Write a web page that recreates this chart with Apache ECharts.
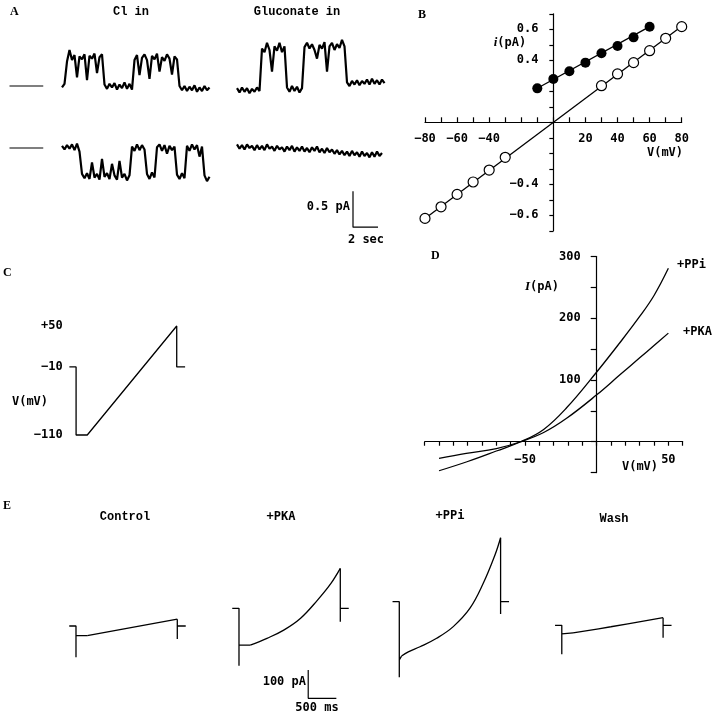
<!DOCTYPE html>
<html>
<head>
<meta charset="utf-8">
<script src="https://cdn.jsdelivr.net/npm/echarts@6/dist/echarts.min.js"></script>
<style>
html, body { margin: 0; padding: 0; background: #fff; }
#chart { width: 720px; height: 714px; }
</style>
</head>
<body>
<div id="chart"></div>
<script>
// ---- A: single channel records (pA), one sample every 0.2 s ----
const sampleStep = 0.2;
const clTop = [-0.02, 0.03, 0.34, 0.5, 0.36, 0.43, 0.12, 0.41, 0.37, 0.44,
  0.08, 0.42, 0.38, 0.45, 0.18, 0.40, 0.44, 0.02, -0.04, 0.03,
  -0.02, 0.04, -0.05, 0.02, -0.03, 0.05, -0.04, 0.03, -0.05, 0.36,
  0.43, 0.15, 0.39, 0.44, 0.36, 0.10, 0.42, 0.37, 0.45, 0.2,
  0.40, 0.35, 0.44, 0.38, 0.16, 0.41, 0.37, 0.0, -0.06, 0.0,
  -0.07, -0.01, -0.06, 0.01, -0.08, -0.02, -0.07, 0.0, -0.06, -0.02];
const clBottom = [0.03, -0.02, 0.04, -0.01, 0.05, -0.03, 0.06, -0.05, -0.36, -0.42,
  -0.35, -0.43, -0.2, -0.41, -0.36, -0.44, -0.15, -0.40, -0.35, -0.43,
  -0.22, -0.38, -0.44, -0.18, -0.41, -0.36, -0.45, -0.38, 0.02, -0.04,
  0.05, -0.03, 0.04, -0.02, -0.36, -0.43, -0.34, -0.41, 0.01, 0.05,
  -0.04, 0.04, -0.08, 0.03, -0.03, 0.02, -0.37, -0.43, -0.35, -0.42,
  0.03, -0.04, 0.05, -0.02, 0.04, -0.12, 0.02, -0.38, -0.46, -0.40];
const glTop = [-0.03, -0.09, -0.02, -0.08, -0.03, -0.1, -0.04, -0.08, -0.02, -0.07,
  0.52, 0.47, 0.6, 0.5, 0.2, 0.55, 0.49, 0.6, 0.47, 0.55,
  -0.02, -0.08, 0.0, -0.07, -0.01, -0.09, -0.03, 0.54, 0.6, 0.52,
  0.58, 0.5, 0.38, 0.57, 0.52, 0.61, 0.2, 0.55, 0.6, 0.5,
  0.58, 0.53, 0.64, 0.55, 0.05, 0.0, 0.07, 0.02, 0.08, 0.01,
  0.07, 0.03, 0.09, 0.02, 0.1, 0.03, 0.08, 0.02, 0.09, 0.04];
const glBottom = [0.05, -0.01, 0.04, -0.02, 0.05, 0.0, 0.03, -0.03, 0.04, -0.02,
  0.03, -0.03, 0.05, -0.01, 0.02, -0.04, 0.03, -0.02, 0.01, -0.05,
  0.02, -0.03, 0.03, -0.05, 0.01, -0.04, 0.02, -0.05, 0.0, -0.06,
  0.01, -0.04, 0.02, -0.06, -0.01, -0.07, 0.0, -0.06, -0.02, -0.08,
  -0.03, -0.09, -0.04, -0.1, -0.05, -0.11, -0.04, -0.1, -0.06, -0.12,
  -0.05, -0.11, -0.07, -0.13, -0.06, -0.12, -0.05, -0.11, -0.07];
const zeroMarkT = [-4.2, -1.5];
const scaleBarAT = [9.28, 9.28, 11.28];
const scaleBarAI = [-0.6, -1.1, -1.1];

// ---- B: i-V of single channel ----
const openV = [-80, -70, -60, -50, -40, -30, 30, 40, 50, 60, 70, 80];
const openI = [-0.62, -0.545, -0.465, -0.385, -0.308, -0.226, 0.236, 0.312, 0.385, 0.462, 0.542, 0.617];
const filledV = [-10, 0, 10, 20, 30, 40, 50, 60];
const filledI = [0.219, 0.279, 0.329, 0.385, 0.445, 0.492, 0.548, 0.617];
const openFitV = [-80, 80];
const openFitI = [-0.62, 0.62];
const filledFitV = [-10, 60];
const filledFitI = [0.22, 0.617];
const bXLabels = [-80, -60, -40, 20, 40, 60, 80];
const bYLabels = [0.6, 0.4, -0.4, -0.6];

// ---- C: voltage protocol (ms, mV) ----
const protoT = [-120, 0, 0, 200, 1800, 1800, 1950];
const protoV = [-10, -10, -110, -110, 50, -10, -10];
const cYLabels = [50, -10, -110];

// ---- D: whole cell I-V ----
const ppiV = [-110, -90, -70, -53, -37, -21, 0, 16, 30, 40, 50];
const ppiI = [-47, -32, -15, 0, 20, 55, 113, 160, 203, 237, 281];
const pkaV = [-110, -91, -70, -53, -37, -21, 0, 16, 30, 40, 50];
const pkaI = [-27, -19, -11, 0, 15, 38, 76, 108, 136, 156, 176];
const dXLabels = [-50, 50];
const dYLabels = [100, 200, 300];

// ---- E: ramp currents (ms, pA relative to holding) ----
const holdT = [-120, 0];
const rampEndT = 1800;
const tailEndT = 1950;
const ctlSpikes = [-110, -46], ctlOn = -34;
const ctlRampT = [200, 1800];
const ctlRampI = [-34, 24];
const pkaSpikes = [-203, -47], pkaOn = -130;
const pkaRampT = [200, 497, 795, 1095, 1395, 1634, 1800];
const pkaRampI = [-130, -106, -77, -35, 29, 88, 141];
const ppiSpikes = [-267, -43], ppiOn = -206;
const ppiRampT = [40, 160, 368, 664, 959, 1256, 1492, 1700, 1800];
const ppiRampI = [-192, -177, -159, -129, -88, -23, 65, 165, 226];
const washSpikes = [-102, -44], washOn = -30;
const washRampT = [200, 872, 1800];
const washRampI = [-27, -5, 27];
const scaleBarET = [1230, 1230, 1730];
const scaleBarEI = [-218, -318, -318];

const numFont = 'DejaVu Sans Mono';
const wordFont = 'bold 12px "Liberation Mono"';
const minus = v => String(v).replace('-', '\u2212');
const zip = (xs, ys) => xs.map((x, k) => [x, ys[k]]);
const sampled = arr => arr.map((v, k) => [+(k * sampleStep).toFixed(2), v]);

const grids = [
    { left: 7, top: 35.6, width: 205, height: 64.8 },     // A Cl top
    { left: 7, top: 133.6, width: 205, height: 57.6 },    // A Cl bottom
    { left: 237, top: 35.6, width: 150, height: 64.8 },   // A gluconate top
    { left: 237, top: 133.6, width: 150, height: 100.8 }, // A gluconate bottom
    { left: 425, top: 13.8, width: 256.7, height: 217 },  // B
    { left: 67.7, top: 319.2, width: 120.2, height: 122.6 }, // C
    { left: 424.7, top: 256.6, width: 258, height: 216 }, // D
    { left: 67.55, top: 541.1, width: 121, height: 184 }, // E control
    { left: 230.55, top: 523.4, width: 121, height: 184 }, // E PKA
    { left: 390.85, top: 516.8, width: 121, height: 184 }, // E PPi
    { left: 553.35, top: 540.4, width: 121, height: 184 }  // E wash
].map(g => Object.assign({ outerBoundsMode: 'none', containLabel: false }, g));

// offset that moves an edge axis onto the zero line of the other axis
const zeroOffset = (size, min, max) => -size * (0 - min) / (max - min);

const hidden = (gi, min, max) => ({ type: 'value', gridIndex: gi, min: min, max: max, show: false });
const black = { color: '#000', width: 1.2 };
const labelStyle = { color: '#000', fontFamily: numFont, fontWeight: 'bold', fontSize: 12 };

const xAxes = [
    hidden(0, -4.4, 12), hidden(1, -4.4, 12), hidden(2, 0, 12), hidden(3, 0, 12),
    {
        type: 'value', gridIndex: 4, min: -80, max: 80, interval: 10,
        position: 'bottom', offset: zeroOffset(217, -0.7, 0.7),
        axisLine: { onZero: false, lineStyle: black },
        axisTick: { inside: true, length: 5, lineStyle: black },
        splitLine: { show: false },
        axisLabel: Object.assign({ margin: 11, showMinLabel: true, showMaxLabel: true,
            formatter: v => bXLabels.includes(v) ? minus(v) : '' }, labelStyle)
    },
    hidden(5, -150, 2000),
    {
        type: 'value', gridIndex: 6, min: -120, max: 60, interval: 10,
        position: 'bottom', offset: zeroOffset(216, -50, 300),
        axisLine: { onZero: false, lineStyle: black },
        axisTick: { length: 4, lineStyle: black },
        splitLine: { show: false },
        axisLabel: Object.assign({ margin: 12,
            formatter: v => dXLabels.includes(v) ? minus(v) : '' }, labelStyle)
    },
    hidden(7, -150, 2000), hidden(8, -150, 2000), hidden(9, -150, 2000), hidden(10, -150, 2000)
];

const yAxes = [
    hidden(0, -0.2, 0.7), hidden(1, -0.6, 0.2), hidden(2, -0.2, 0.7), hidden(3, -1.2, 0.2),
    {
        type: 'value', gridIndex: 4, min: -0.7, max: 0.7, interval: 0.1,
        position: 'left', offset: zeroOffset(256.7, -80, 80),
        axisLine: { onZero: false, lineStyle: black },
        axisTick: { length: 4, lineStyle: black },
        splitLine: { show: false },
        axisLabel: Object.assign({ margin: 15,
            formatter: v => bYLabels.some(l => Math.abs(l - v) < 1e-6) ? minus(v.toFixed(1)) : '' }, labelStyle)
    },
    {
        type: 'value', gridIndex: 5, min: -120, max: 60, interval: 10,
        axisLine: { show: false }, axisTick: { show: false }, splitLine: { show: false },
        axisLabel: Object.assign({ margin: 5,
            formatter: v => cYLabels.includes(v) ? (v > 0 ? '+' + v : minus(v)) : '' }, labelStyle)
    },
    {
        type: 'value', gridIndex: 6, min: -50, max: 300, interval: 50,
        position: 'left', offset: zeroOffset(258, -120, 60),
        axisLine: { onZero: false, lineStyle: black },
        axisTick: { length: 6, lineStyle: black },
        splitLine: { show: false },
        axisLabel: Object.assign({ margin: 16,
            formatter: v => dYLabels.includes(v) ? String(v) : '' }, labelStyle)
    },
    hidden(7, -350, 300), hidden(8, -350, 300), hidden(9, -350, 300), hidden(10, -350, 300)
];

const series = [];
function line(gi, data, width, extra) {
    series.push(Object.assign({
        type: 'line', xAxisIndex: gi, yAxisIndex: gi, data: data, symbol: 'none',
        silent: true, clip: false, lineStyle: { color: '#000', width: width || 1.3 }
    }, extra || {}));
}

// A
line(0, zeroMarkT.map(t => [t, 0]), 1.2);
line(1, zeroMarkT.map(t => [t, 0]), 1.2);
line(0, sampled(clTop), 2.2);
line(1, sampled(clBottom), 2.2);
line(2, sampled(glTop), 2.2);
line(3, sampled(glBottom), 2.2);
line(3, zip(scaleBarAT, scaleBarAI), 1.2);

// B
line(4, zip(openFitV, openFitI), 1.3);
line(4, zip(filledFitV, filledFitI), 1.3);
series.push({ type: 'scatter', xAxisIndex: 4, yAxisIndex: 4, z: 5, symbol: 'circle', symbolSize: 10,
    data: zip(openV, openI), itemStyle: { color: '#fff', borderColor: '#000', borderWidth: 1.2, opacity: 1 } });
series.push({ type: 'scatter', xAxisIndex: 4, yAxisIndex: 4, z: 5, symbol: 'circle', symbolSize: 10,
    data: zip(filledV, filledI), itemStyle: { color: '#000', opacity: 1 } });

// C
line(5, zip(protoT, protoV), 1.3);

// D
line(6, zip(ppiV, ppiI), 1.3, { smooth: 0.4 });
line(6, zip(pkaV, pkaI), 1.3, { smooth: 0.4 });

// E
function eTrace(gi, spikes, on, rampT, rampI) {
    const last = rampI[rampI.length - 1];
    line(gi, [[holdT[0], 0], [holdT[1], 0], [0, spikes[0]], [0, on], [rampT[0], rampI[0]]], 1.3);
    line(gi, zip(rampT, rampI), 1.3, { smooth: 0.4 });
    line(gi, [[rampEndT, last], [rampEndT, spikes[1]], [rampEndT, 0], [tailEndT, 0]], 1.3);
}
eTrace(7, ctlSpikes, ctlOn, ctlRampT, ctlRampI);
eTrace(8, pkaSpikes, pkaOn, pkaRampT, pkaRampI);
eTrace(9, ppiSpikes, ppiOn, ppiRampT, ppiRampI);
eTrace(10, washSpikes, washOn, washRampT, washRampI);
line(8, zip(scaleBarET, scaleBarEI), 1.2);

// text labels
const letterFont = 'bold 12px "Liberation Serif"';
const numTxt = 'bold 12px "' + numFont + '"';
function txt(text, x, y, align, font, rich) {
    return { type: 'text', x: x, y: y, silent: true,
        style: { text: text, fill: '#000', font: font, align: align, verticalAlign: 'middle', rich: rich } };
}
const italicRich = { it: { fontStyle: 'italic', fontWeight: 'bold', fontSize: 13, fontFamily: 'Liberation Serif' } };
const graphics = [
    txt('A', 10, 12, 'left', letterFont),
    txt('Cl in', 131, 12, 'center', wordFont),
    txt('Gluconate in', 297, 12, 'center', wordFont),
    txt('0.5 pA', 350, 207, 'right', numTxt),
    txt('2 sec', 366, 240, 'center', numTxt),
    txt('B', 418, 15, 'left', letterFont),
    txt('{it|i}(pA)', 510, 43, 'center', numTxt, italicRich),
    txt('V(mV)', 665, 153, 'center', numTxt),
    txt('C', 3, 273, 'left', letterFont),
    txt('V(mV)', 30, 402, 'center', numTxt),
    txt('D', 431, 256, 'left', letterFont),
    txt('{it|I}(pA)', 542, 287, 'center', numTxt, italicRich),
    txt('V(mV)', 640, 467, 'center', numTxt),
    txt('+PPi', 677, 265, 'left', numTxt),
    txt('+PKA', 683, 332, 'left', numTxt),
    txt('E', 3, 506, 'left', letterFont),
    txt('Control', 125, 517, 'center', wordFont),
    txt('+PKA', 281, 517, 'center', numTxt),
    txt('+PPi', 450, 516, 'center', numTxt),
    txt('Wash', 614, 519, 'center', wordFont),
    txt('100 pA', 306, 682, 'right', numTxt),
    txt('500 ms', 317, 708, 'center', numTxt)
];

const chart = echarts.init(document.getElementById('chart'));
chart.setOption({
    animation: false,
    backgroundColor: '#fff',
    grid: grids,
    xAxis: xAxes,
    yAxis: yAxes,
    series: series,
    graphic: graphics
});
</script>
</body>
</html>
